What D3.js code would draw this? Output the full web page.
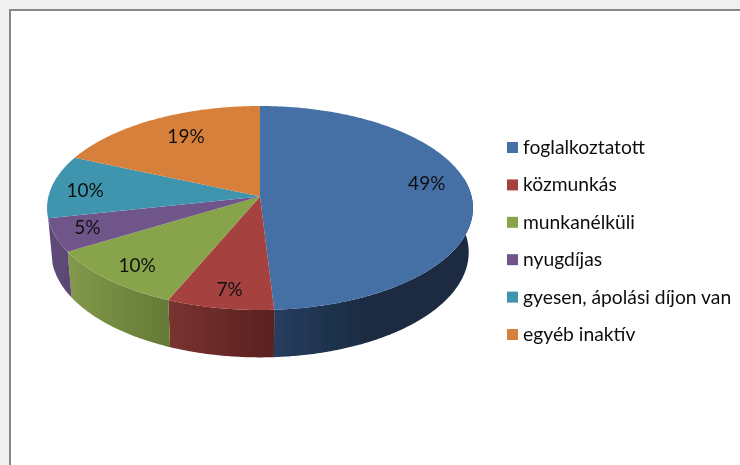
<!DOCTYPE html>
<html><head><meta charset="utf-8">
<script src="https://cdnjs.cloudflare.com/ajax/libs/d3/7.8.5/d3.min.js"></script>
<style>html,body{margin:0;padding:0;background:#f0f0f0;overflow:hidden}svg{display:block}</style>
</head><body>
<svg id="c" width="740" height="465"></svg>
<script>
const categories = ["foglalkoztatott","közmunkás","munkanélküli","nyugdíjas","gyesen, ápolási díjon van","egyéb inaktív"];
const values = [49.05,7.3,10,5.25,10,18.4];
const labels = ["49%","7%","10%","5%","10%","19%"];
const topColors = ["#4570a6","#a54240","#88a44c","#70548a","#3f95ae","#d7803b"];
const wallLight = ["#263d5e","#7a3230","#82994a","#5f4b7a","#2f7085","#a5622d"];
const wallDark  = ["#1a2c43","#5a2120","#647a36","#5c4674","#2a6375","#8f5526"];
const labelShift = [[-2,-10.5],[1,6],[-4,3.5],[-10,0],[-8,1.5],[12,2]];

const svg = d3.select("#c");
const W = 740, H = 465;
svg.append("rect").attr("x",10).attr("y",10).attr("width",W).attr("height",H).attr("fill","#fff").attr("stroke","#878787").attr("stroke-width",2);

const cx=260, cy=196.5, a=211.6, b=100.7, p=0.1127, depth=44, sx=0.98, sy=1.03;
function proj(theta,r){const u=r*Math.sin(theta),v=-r*Math.cos(theta),d=1-p*v;return [cx+a*u/d,cy+b*v/d];}
function projBottom(theta){const t=proj(theta,1);return [cx+(t[0]-cx)*sx,cy+depth+(t[1]-cy)*sy];}
const arcs=d3.pie().sort(null).value(d=>d)(values);
const line=d3.line();
function sample(a0,a1){const n=Math.max(2,Math.ceil((a1-a0)/0.01));return d3.range(n+1).map(i=>a0+(a1-a0)*i/n);}

const defs=svg.append("defs");
defs.append("filter").attr("id","soft").attr("x","-5%").attr("y","-5%").attr("width","110%").attr("height","110%")
  .append("feGaussianBlur").attr("stdDeviation",0.4);
const chart=svg.append("g").attr("filter","url(#soft)");
const lo=Math.PI*0.44, hi=Math.PI*1.43;
arcs.forEach((s,i)=>{
  const a0=Math.max(s.startAngle,lo),a1=Math.min(s.endAngle,hi);
  if(a1<=a0) return;
  const ts=sample(a0,a1);
  const pts=ts.map(t=>proj(t,1)).concat(ts.slice().reverse().map(projBottom));
  const xs=d3.extent(pts,d=>d[0]);
  const id="w"+i;
  const g=defs.append("linearGradient").attr("id",id).attr("gradientUnits","userSpaceOnUse")
    .attr("x1",xs[0]).attr("x2",i===0?xs[0]+(xs[1]-xs[0])*0.45:xs[1]).attr("y1",0).attr("y2",0);
  g.append("stop").attr("offset",0).attr("stop-color",wallLight[i]);
  g.append("stop").attr("offset",1).attr("stop-color",wallDark[i]);
  chart.append("path").attr("d",line(pts)+"Z").attr("fill",`url(#${id})`);
});
arcs.forEach((s,i)=>{
  const pts=[[cx,cy]].concat(sample(s.startAngle,s.endAngle).map(t=>proj(t,1)));
  chart.append("path").attr("d",line(pts)+"Z").attr("fill",topColors[i]);
});
const font="Lato, 'Open Sans', sans-serif";
arcs.forEach((s,i)=>{
  const q=proj((s.startAngle+s.endAngle)/2,0.8);
  chart.append("text").attr("x",q[0]+labelShift[i][0]).attr("y",q[1]+labelShift[i][1]).attr("dy","0.36em")
    .attr("text-anchor","middle").attr("font-family",font).attr("font-size",19).attr("fill","#111").text(labels[i]);
});
const ly=d3.scalePoint().domain(categories).range([147,334]);
categories.forEach((c,i)=>{
  chart.append("rect").attr("x",507).attr("y",ly(c)-5).attr("width",11).attr("height",11).attr("fill",topColors[i]);
  chart.append("text").attr("x",523).attr("y",ly(c)).attr("dy","0.36em").attr("font-family",font).attr("font-size",19.3).attr("fill","#111").text(c);
});
</script>
</body></html>
